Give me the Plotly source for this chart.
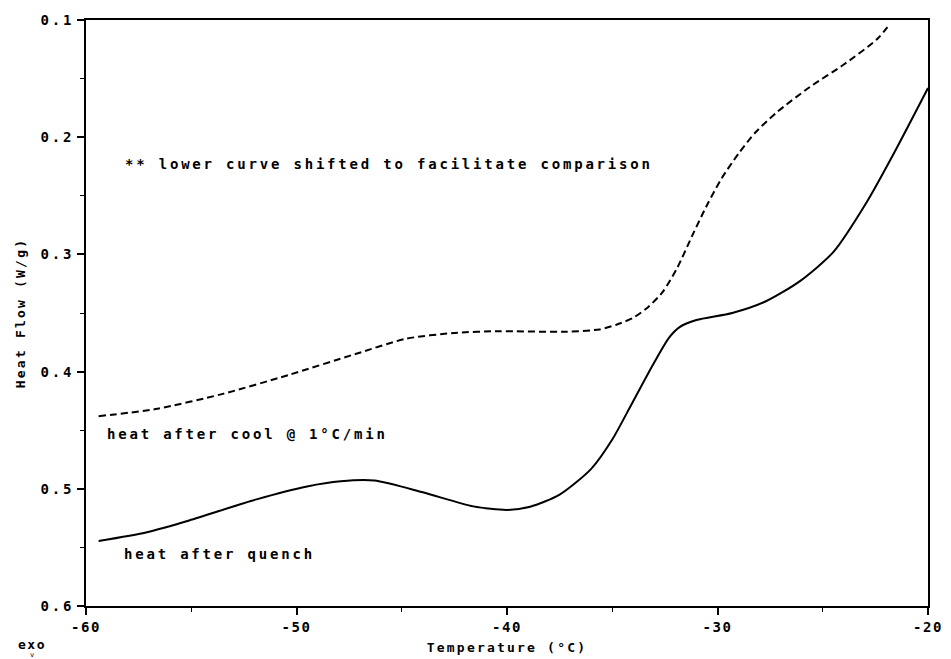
import plotly.graph_objects as go

# DSC heat-flow traces (Heat Flow in W/g, exo down, axis reversed)
temp_cool = [-59.4, -56.7, -53.5, -50.4, -47.2, -44.8, -42.5, -40.4, -37.2, -35.6,
             -34.8, -34.0, -33.3, -32.6, -31.9, -31.2, -30.5, -29.8, -29.0, -28.2,
             -27.2, -25.6, -24.0, -22.4, -21.8]
flow_cool = [0.438, 0.432, 0.419, 0.403, 0.385, 0.372, 0.367, 0.3655, 0.366, 0.364,
             0.360, 0.354, 0.345, 0.332, 0.311, 0.284, 0.258, 0.235, 0.214, 0.196,
             0.179, 0.157, 0.138, 0.116, 0.103]

temp_quench = [-59.4, -57.1, -55.1, -51.9, -49.5, -47.9, -46.3, -44.0, -41.6, -40.0,
               -38.9, -37.5, -36.0, -35.0, -34.0, -33.0, -32.3, -31.8, -31.0, -29.3,
               -27.7, -26.1, -24.5, -22.9, -21.6, -20.0]
flow_quench = [0.5445, 0.537, 0.527, 0.509, 0.498, 0.4936, 0.493, 0.503, 0.515, 0.518,
               0.5153, 0.505, 0.483, 0.458, 0.425, 0.392, 0.371, 0.362, 0.356, 0.350,
               0.340, 0.323, 0.298, 0.255, 0.213, 0.158]

x_ticks = [-60, -50, -40, -30, -20]
x_tick_labels = ["-60", "-50", "-40", "-30", "-20"]
y_ticks = [0.1, 0.2, 0.3, 0.4, 0.5, 0.6]
y_tick_labels = ["0.1", "0.2", "0.3", "0.4", "0.5", "0.6"]
x_minor = [-55, -45, -35, -25]
y_minor = [0.15, 0.25, 0.35, 0.45, 0.55]

FONT = "DejaVu Sans Mono"


def spaced(s, px=2.8):
    return f'<span style="letter-spacing:{px}px">{s}</span>'


fig = go.Figure()
fig.add_trace(go.Scatter(
    x=temp_cool, y=flow_cool, mode="lines",
    line=dict(color="black", width=2, dash="7px,4px", shape="spline", smoothing=0.7),
    showlegend=False, hoverinfo="skip"))
fig.add_trace(go.Scatter(
    x=temp_quench, y=flow_quench, mode="lines",
    line=dict(color="black", width=2, shape="spline", smoothing=0.7),
    showlegend=False, hoverinfo="skip"))

notes = [
    ("** lower curve shifted to facilitate comparison", -58.25, 0.223),
    ("heat after cool @ 1°C/min", -59.1, 0.453),
    ("heat after quench", -58.3, 0.556),
]
for text, xv, yv in notes:
    fig.add_annotation(x=xv, y=yv, xref="x", yref="y", text=spaced(text),
                       showarrow=False, xanchor="left", yanchor="middle",
                       font=dict(family=FONT, size=14, color="black", weight="bold"))

# exotherm direction marker below the y axis
fig.add_annotation(x=0, y=0, xref="paper", yref="paper", text=spaced("exo", 1.5),
                   showarrow=False, xanchor="center", yanchor="middle",
                   xshift=-54, yshift=-38,
                   font=dict(family=FONT, size=13, color="black", weight="bold"))
fig.add_annotation(x=0, y=0, xref="paper", yref="paper", text="v",
                   showarrow=False, xanchor="center", yanchor="middle",
                   xshift=-54, yshift=-49,
                   font=dict(family=FONT, size=7, color="black"))

axis_common = dict(
    automargin=False,
    showgrid=False, zeroline=False, showline=True, linecolor="black", linewidth=2,
    mirror=True, ticks="outside", ticklen=7, tickwidth=1.5, tickcolor="black",
    tickmode="array",
    tickfont=dict(family=FONT, size=14, color="black", weight="bold"),
)

fig.update_layout(
    width=951, height=659, autosize=False,
    margin=dict(l=86, r=23, t=20, b=53),
    paper_bgcolor="white", plot_bgcolor="white",
    xaxis=dict(axis_common, range=[-60, -20], tickvals=x_ticks,
               ticktext=[spaced(t, 1.5) for t in x_tick_labels],
               minor=dict(tickvals=x_minor, ticks="outside", ticklen=4, tickwidth=1.2,
                          tickcolor="black"),
               title=dict(text=spaced("Temperature (°C)", 2.2), standoff=9,
                          font=dict(family=FONT, size=13, color="black", weight="bold"))),
    yaxis=dict(axis_common, range=[0.6, 0.1], tickvals=y_ticks,
               ticktext=[spaced(t) for t in y_tick_labels],
               minor=dict(tickvals=y_minor, ticks="outside", ticklen=4, tickwidth=1.2,
                          tickcolor="black"),
               title=dict(text=spaced("Heat Flow (W/g)", 2.2), standoff=12,
                          font=dict(family=FONT, size=13, color="black", weight="bold"))),
)

fig.write_html("out.html")
